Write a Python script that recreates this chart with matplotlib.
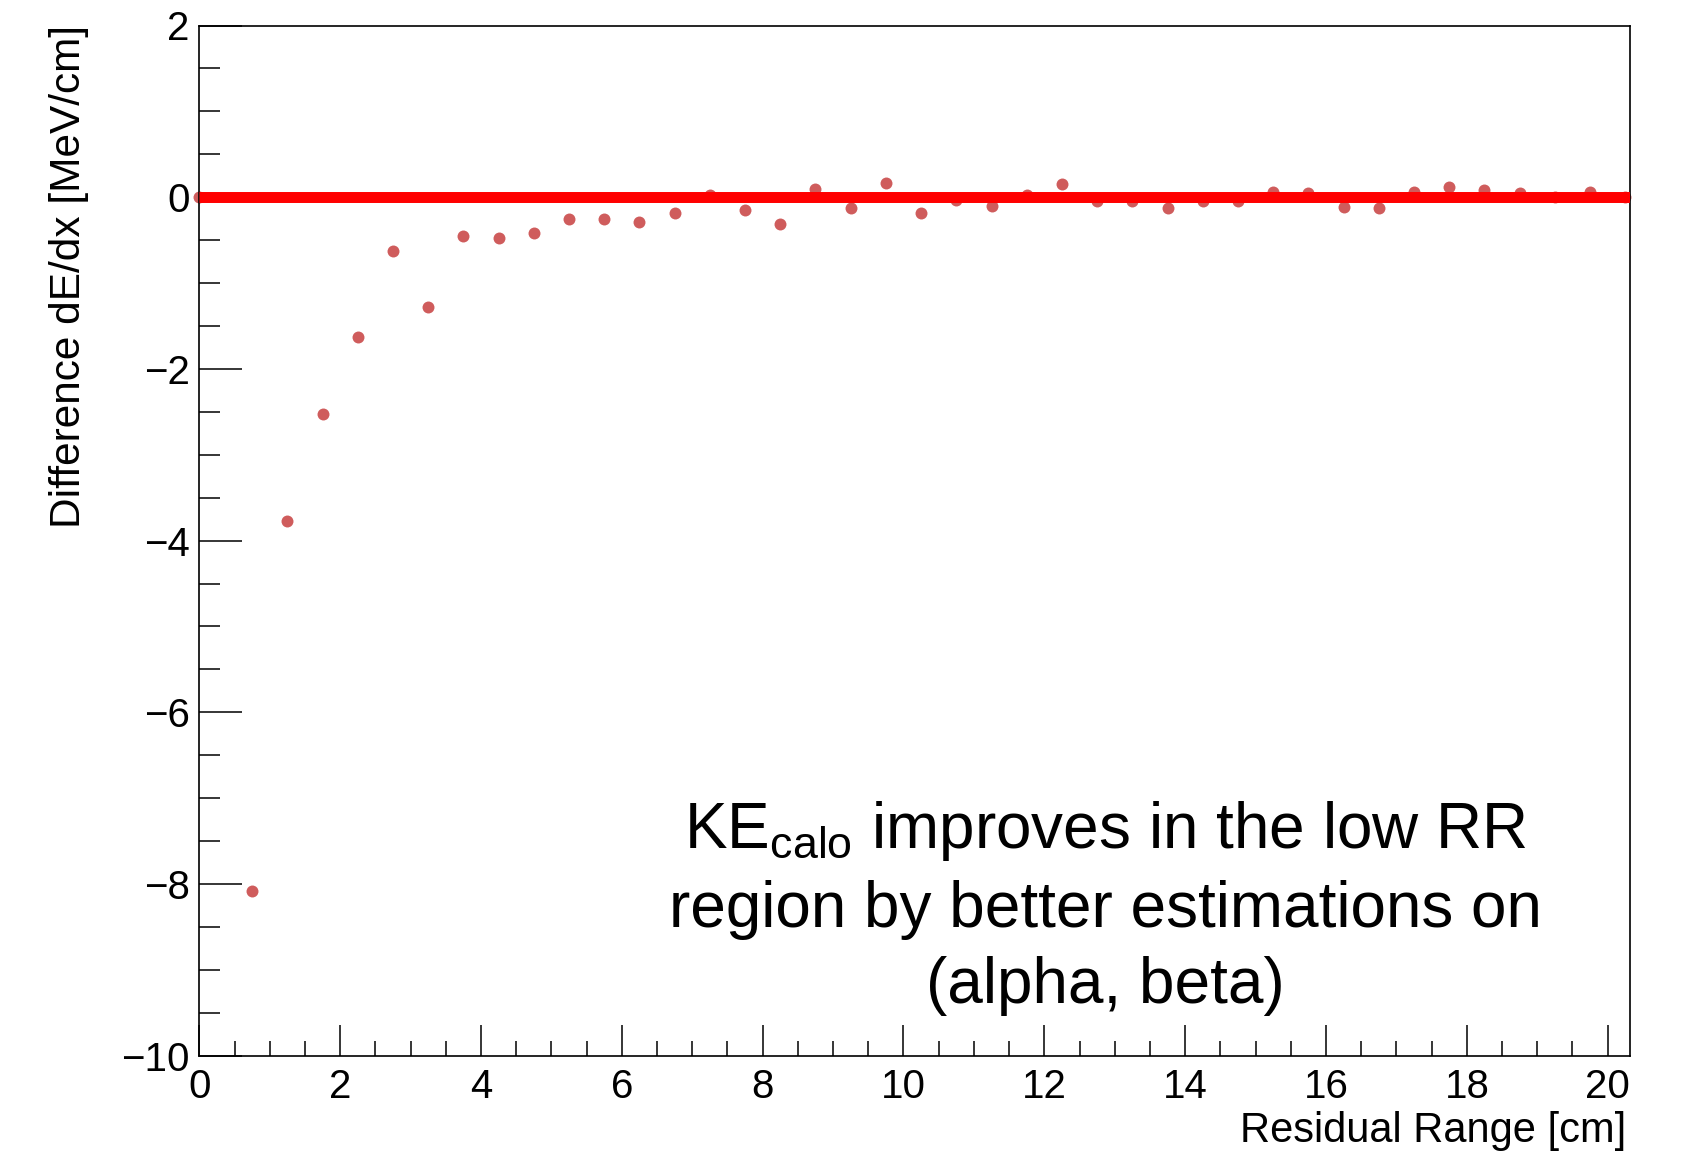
import matplotlib
matplotlib.use("Agg")
import matplotlib.pyplot as plt
from matplotlib.ticker import MultipleLocator

plt.rcParams["font.family"] = ["Liberation Sans", "DejaVu Sans"]
plt.rcParams["mathtext.fontset"] = "custom"
plt.rcParams["mathtext.rm"] = "Liberation Sans"
plt.rcParams["mathtext.it"] = "Liberation Sans:italic"
plt.rcParams["mathtext.bf"] = "Liberation Sans:bold"

# Difference in dE/dx per residual-range bin
residual_range = [0.0, 0.75, 1.25, 1.75, 2.25, 2.75, 3.25, 3.75, 4.25, 4.75, 5.25,
                  5.75, 6.25, 6.75, 7.25, 7.75, 8.25, 8.75, 9.25, 9.75, 10.25,
                  10.75, 11.25, 11.75, 12.25, 12.75, 13.25, 13.75, 14.25, 14.75,
                  15.25, 15.75, 16.25, 16.75, 17.25, 17.75, 18.25, 18.75, 19.25,
                  19.75, 20.25]
dedx_diff = [0.0, -8.08, -3.77, -2.53, -1.63, -0.63, -1.28, -0.45, -0.48, -0.42,
             -0.25, -0.25, -0.29, -0.18, 0.03, -0.15, -0.31, 0.10, -0.12, 0.16,
             -0.18, -0.03, -0.10, 0.03, 0.15, -0.04, -0.04, -0.13, -0.04, -0.05,
             0.06, 0.045, -0.11, -0.13, 0.06, 0.115, 0.084, 0.045, 0.006, 0.057,
             0.006]

# Zero reference line
ref_x = [0.0, 20.31]
ref_y = [0.0, 0.0]

x_limits = (0.0, 20.31)
y_limits = (-10.0, 2.0)

W, H = 1685, 1154
fig = plt.figure(figsize=(W / 100, H / 100), dpi=100)
ax = fig.add_axes([199.3 / W, (H - 1055.7) / H, (1629.5 - 199.3) / W, (1055.7 - 25.5) / H])

ax.plot(residual_range, dedx_diff, linestyle="none", marker="o", markersize=8.6,
        markerfacecolor="#cf5c5c", markeredgecolor="#cf5c5c", markeredgewidth=0,
        zorder=2, clip_on=False)
ax.plot(ref_x, ref_y, color="#ff0000", linewidth=7.9, solid_capstyle="butt", zorder=3)

ax.set_xlim(*x_limits)
ax.set_ylim(*y_limits)

ax.xaxis.set_major_locator(MultipleLocator(2))
ax.xaxis.set_minor_locator(MultipleLocator(0.5))
ax.yaxis.set_major_locator(MultipleLocator(2))
ax.yaxis.set_minor_locator(MultipleLocator(0.5))

for s in ax.spines.values():
    s.set_linewidth(1.2)

ax.tick_params(axis="both", which="both", direction="in", top=False, right=False,
               width=1.1, labelsize=29)
ax.tick_params(axis="y", which="major", length=31, pad=7)
ax.tick_params(axis="y", which="minor", length=15)
ax.tick_params(axis="x", which="major", length=22.3, pad=9)
ax.tick_params(axis="x", which="minor", length=10.8)

fig.text(1626 / W, (H - 1141.6) / H, "Residual Range [cm]", ha="right",
         va="baseline", fontsize=30)
fig.text(69 / W, 1 - 25.5 / H, "Difference dE/dx [MeV/cm]", rotation=90,
         ha="center", va="top", fontsize=30.5)

xc = (1105 - 199.3) / (1629.5 - 199.3)
ax.text(xc, (1055.7 - 848) / 1030.2, r"KE$_{\mathrm{calo}}$ improves in the low RR",
        transform=ax.transAxes, ha="center", va="baseline", fontsize=46)
ax.text(xc, (1055.7 - 927) / 1030.2, "region by better estimations on",
        transform=ax.transAxes, ha="center", va="baseline", fontsize=46)
ax.text(xc, (1055.7 - 1003) / 1030.2, "(alpha, beta)",
        transform=ax.transAxes, ha="center", va="baseline", fontsize=46)

fig.savefig("out.png", dpi=100)
